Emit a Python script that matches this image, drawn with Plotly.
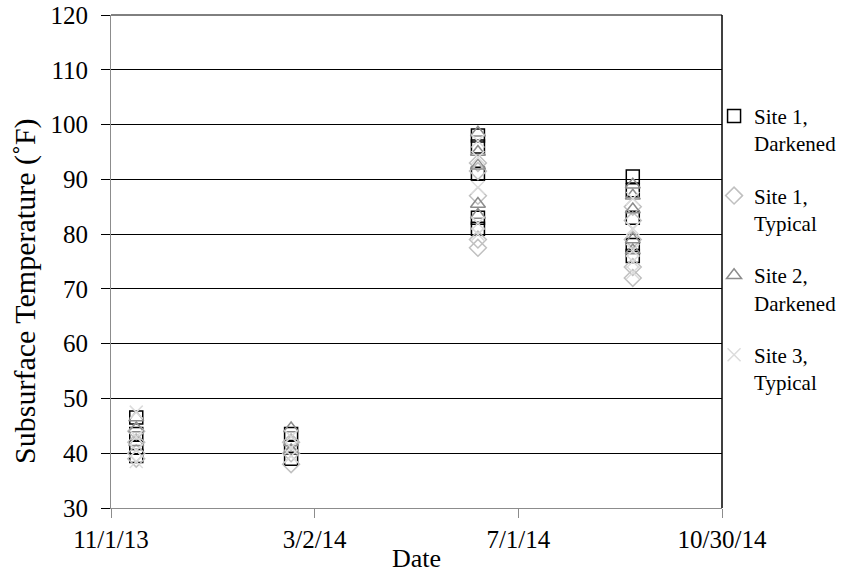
import plotly.graph_objects as go

# ---- data ----
tick_dates = ["2013-11-01", "2014-03-02", "2014-07-01", "2014-10-30"]
tick_labels = ["11/1/13", "3/2/14", "7/1/14", "10/30/14"]

s1d_dates = ["2013-11-16"] * 4 + ["2014-02-16"] * 3 + ["2014-06-07"] * 5 + ["2014-09-07"] * 5
s1d_temps = [46.5, 43.5, 41, 39.5, 43.5, 41, 39, 98, 96, 91, 83, 81, 90.5, 88, 83, 78, 76]

s1t_dates = ["2013-11-16"] * 4 + ["2014-02-16"] * 3 + ["2014-06-07"] * 5 + ["2014-09-07"] * 5
s1t_temps = [44, 42, 40, 39, 42, 40, 38, 93, 91.5, 87, 79, 77.5, 85, 82.5, 79, 74, 72]

s2d_dates = ["2013-11-16"] * 3 + ["2014-02-16"] * 3 + ["2014-06-07"] * 5 + ["2014-09-07"] * 5
s2d_temps = [46.5, 44.5, 42, 44.5, 42, 40.5, 98.5, 95, 92.5, 85.5, 83.5, 89, 87, 84.5, 79, 77]

s3t_dates = ["2013-11-16"] * 4 + ["2014-02-16"] * 3 + ["2014-06-07"] * 5 + ["2014-09-07"] * 5
s3t_temps = [47.5, 43, 40.5, 38.5, 43, 41, 39.5, 97, 94, 88.5, 82, 80, 86.5, 81, 77, 75, 73]

series = [
    ("Site 1,<br>Darkened", s1d_dates, s1d_temps, "square-open", "#000000"),
    ("Site 1,<br>Typical", s1t_dates, s1t_temps, "diamond-open", "#c0c0c0"),
    ("Site 2,<br>Darkened", s2d_dates, s2d_temps, "triangle-up-open", "#8c8c8c"),
    ("Site 3,<br>Typical", s3t_dates, s3t_temps, "x-thin-open", "#dcdcdc"),
]

FONT = "Liberation Serif"

fig = go.Figure()
for i, (name, xs, ys, sym, col) in enumerate(series):
    fig.add_trace(go.Scatter(
        x=xs, y=ys, mode="markers", name=name, legendgroup=f"g{i}",
        marker=dict(symbol=sym, size=13, color=col, line=dict(color=col, width=1.5)),
    ))

fig.update_layout(
    width=846, height=573,
    margin=dict(l=111, r=124, t=15, b=65, autoexpand=False),
    paper_bgcolor="white", plot_bgcolor="white",
    font=dict(family=FONT, color="#000000", size=24),
    showlegend=True,
    legend=dict(x=0.987, y=0.836, xanchor="left", yanchor="top", valign="top",
                font=dict(family=FONT, size=21, color="#000"),
                tracegroupgap=22, itemwidth=30, bgcolor="rgba(0,0,0,0)"),
    xaxis=dict(
        type="date", range=["2013-11-01", "2014-10-30"],
        tickmode="array", tickvals=tick_dates, ticktext=tick_labels,
        showgrid=False, zeroline=False, automargin=False,
        showline=True, linecolor="#8c8c8c", linewidth=1,
        ticks="outside", ticklen=9, tickcolor="#8c8c8c",
        tickfont=dict(family=FONT, size=25),
        title=dict(text="Date", font=dict(family=FONT, size=26), standoff=0),
    ),
    yaxis=dict(
        range=[30, 120], dtick=10, tick0=30,
        showgrid=True, gridcolor="#000000", gridwidth=1,
        zeroline=False, automargin=False,
        showline=True, linecolor="#8c8c8c", linewidth=1,
        ticks="outside", ticklen=9, tickcolor="#000000",
        ticklabelstandoff=8,
        tickfont=dict(family=FONT, size=25),
    ),
    annotations=[dict(
        text="Subsurface Temperature (˚F)", textangle=-90,
        xref="paper", yref="paper", x=-0.141, y=0.44,
        xanchor="center", yanchor="middle", showarrow=False,
        font=dict(family=FONT, size=30, color="#000"),
    )],
)

# right border and top line of the plot area
fig.add_shape(type="line", xref="paper", yref="paper", x0=1, x1=1, y0=0, y1=1,
              line=dict(color="#000000", width=1.5))
fig.add_shape(type="line", xref="paper", yref="paper", x0=0, x1=1, y0=1, y1=1,
              line=dict(color="#000000", width=1))

fig.write_html("out.html", config={"displayModeBar": False},
               post_script="document.body.style.margin='0';")
